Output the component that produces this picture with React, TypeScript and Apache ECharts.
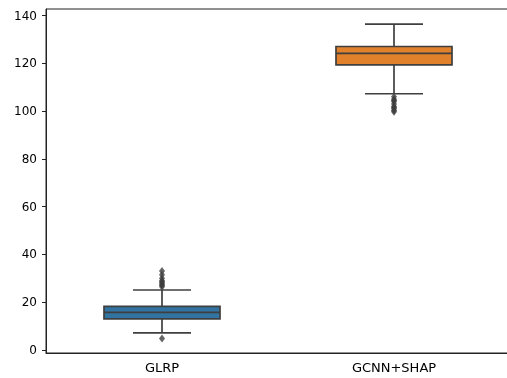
import React, { useEffect, useRef } from "react";
import * as echarts from "echarts";

const categories = ["GLRP", "GCNN+SHAP"];
const whiskerLow = [7.1, 107.3];
const q1 = [13.0, 119.4];
const median = [15.7, 124.2];
const q3 = [18.2, 127.1];
const whiskerHigh = [25.1, 136.5];
const outliersGLRP = [4.8, 26.5, 27.0, 27.5, 28.0, 28.5, 29.0, 30.0, 31.5, 33.0];
const outliersGCNN = [106.0, 105.0, 104.5, 104.0, 103.0, 102.0, 101.5, 101.0, 100.3, 99.8];
const boxColors = ["#3274a1", "#e1812c"];
const yTicks = [0, 20, 40, 60, 80, 100, 120, 140];

export default function App() {
  const ref = useRef<HTMLDivElement>(null);
  useEffect(() => {
    if (!ref.current) return;
    document.body.style.margin = "0";
    document.body.style.overflow = "hidden";
    const chart = echarts.init(ref.current, null, { renderer: "svg" });
    const boxData = categories.map((_, i) => [i, whiskerLow[i], q1[i], median[i], q3[i], whiskerHigh[i]]);
    const outlierData = [
      ...outliersGLRP.map((v) => [0, v]),
      ...outliersGCNN.map((v) => [1, v]),
    ];
    const lineColor = "#3f3f3f";
    const lw = 1.7;
    chart.setOption({
      animation: false,
      textStyle: { fontFamily: "DejaVu Sans" },
      grid: {
        left: 46,
        right: -3,
        top: 9,
        bottom: 25,
        show: true,
        borderColor: "#222",
        borderWidth: 1,
        backgroundColor: "transparent",
        outerBoundsMode: "none",
        containLabel: false,
      },
      xAxis: {
        type: "category",
        data: categories,
        axisLine: { onZero: false, lineStyle: { color: "#222", width: 1 } },
        axisTick: { alignWithLabel: true, length: 4, lineStyle: { color: "#222" } },
        axisLabel: { color: "#000", fontSize: 13, margin: 8, fontFamily: "DejaVu Sans" },
        splitLine: { show: false },
      },
      yAxis: {
        type: "value",
        min: -1.3,
        max: 142.8,
        axisLine: { show: true, lineStyle: { color: "#222", width: 1 } },
        axisTick: { show: true, length: 4, customValues: yTicks, lineStyle: { color: "#222" } },
        axisLabel: { color: "#000", fontSize: 12, margin: 9, customValues: yTicks, fontFamily: "DejaVu Sans" },
        splitLine: { show: false },
      },
      series: [
        {
          type: "custom",
          data: boxData,
          encode: { x: 0, y: [1, 2, 3, 4, 5] },
          z: 2,
          renderItem: (params: any, api: any) => {
            const idx = api.value(0);
            const pLow = api.coord([idx, api.value(1)]);
            const pQ1 = api.coord([idx, api.value(2)]);
            const pMed = api.coord([idx, api.value(3)]);
            const pQ3 = api.coord([idx, api.value(4)]);
            const pHigh = api.coord([idx, api.value(5)]);
            const band = api.size([1, 0])[0];
            const bw = band * 0.5;
            const cx = pQ1[0];
            const capW = bw / 2;
            const ls = { stroke: lineColor, lineWidth: lw };
            return {
              type: "group",
              children: [
                { type: "line", shape: { x1: cx, y1: pQ1[1], x2: cx, y2: pLow[1] }, style: ls },
                { type: "line", shape: { x1: cx, y1: pQ3[1], x2: cx, y2: pHigh[1] }, style: ls },
                { type: "line", shape: { x1: cx - capW / 2, y1: pLow[1], x2: cx + capW / 2, y2: pLow[1] }, style: ls },
                { type: "line", shape: { x1: cx - capW / 2, y1: pHigh[1], x2: cx + capW / 2, y2: pHigh[1] }, style: ls },
                {
                  type: "rect",
                  shape: { x: cx - bw / 2, y: pQ3[1], width: bw, height: pQ1[1] - pQ3[1] },
                  style: { fill: boxColors[params.dataIndex], stroke: lineColor, lineWidth: lw },
                },
                { type: "line", shape: { x1: cx - bw / 2, y1: pMed[1], x2: cx + bw / 2, y2: pMed[1] }, style: ls },
              ],
            };
          },
        },
        {
          type: "scatter",
          data: outlierData,
          symbol: "diamond",
          symbolSize: [6, 8],
          itemStyle: { color: lineColor },
          z: 3,
        },
      ],
    });
    return () => chart.dispose();
  }, []);
  return <div ref={ref} style={{ position: "fixed", left: 0, top: 0, width: 507, height: 378 }} />;
}
